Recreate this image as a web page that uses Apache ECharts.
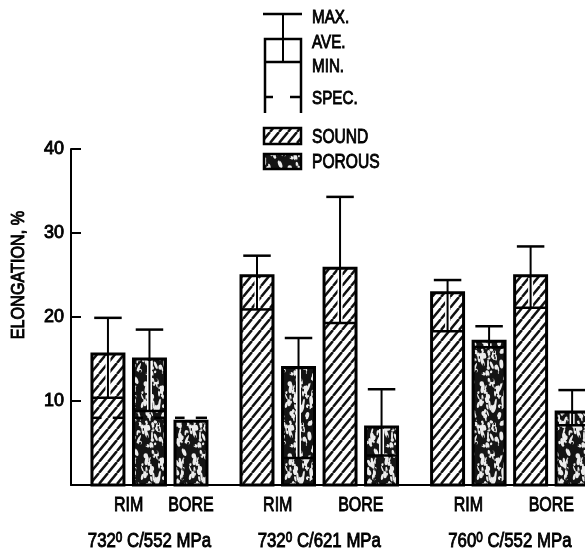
<!DOCTYPE html>
<html>
<head>
<meta charset="utf-8">
<script src="https://cdn.jsdelivr.net/npm/echarts@6/dist/echarts.min.js"></script>
<style>
  html, body { margin: 0; padding: 0; background: #fff; }
  #chart { width: 585px; height: 560px; }
</style>
</head>
<body>
<div id="chart"></div>
<script>
// Test conditions: temperature (deg C) / stress (MPa)
const conditionTemps = ['732', '732', '760'];
const conditionStress = ['552', '621', '552'];

// One entry per bar
const barCondition = [0, 0, 0, 1, 1, 1, 1, 2, 2, 2, 2];
const barLocation = ['RIM', 'RIM', 'BORE', 'RIM', 'RIM', 'BORE', 'BORE', 'RIM', 'RIM', 'BORE', 'BORE'];
const barMaterial = ['SOUND', 'POROUS', 'POROUS', 'SOUND', 'POROUS', 'SOUND', 'POROUS', 'SOUND', 'POROUS', 'SOUND', 'POROUS'];
const aveElongation = [15.6, 15.0, 7.6, 24.9, 14.0, 25.8, 6.9, 22.9, 17.1, 24.9, 8.7];
const minElongation = [10.4, 8.8, 7.6, 20.9, 3.2, 19.3, 3.5, 18.3, 16.4, 21.1, 7.1];
const maxElongation = [19.9, 18.5, 7.6, 27.3, 17.5, 34.3, 11.4, 24.4, 18.9, 28.4, 11.3];
const specElongation = [8, 8, 8, null, null, null, null, null, null, null, null];

// Y axis ticks
const yTicks = [10, 20, 30, 40];

const FONT = "'Liberation Sans', Arial, sans-serif";
const NARROW = 0.8;       // horizontal squeeze for the narrow lettering
const INK = 0.9;          // stroke added to the lettering for a heavier look
const GROUP_GAP = 0.59;   // extra space between condition groups, in bar slots
const BAR_WIDTH = 0.77;   // bar width, in bar slots

// Bar slot positions: consecutive slots, with a gap between condition groups
const barX = barCondition.map((g, i) => i + g * GROUP_GAP);

// ---- fill patterns ----
function makeHatch() {
  const w = 9, h = 11;
  const c = document.createElement('canvas');
  c.width = w; c.height = h;
  const ctx = c.getContext('2d');
  ctx.fillStyle = '#fff';
  ctx.fillRect(0, 0, w, h);
  ctx.strokeStyle = '#111';
  ctx.lineWidth = 2.5;
  [-w, 0, w].forEach(dx => {
    ctx.beginPath();
    ctx.moveTo(dx, h);
    ctx.lineTo(dx + w, 0);
    ctx.stroke();
  });
  return c;
}

function makePorous() {
  const w = 48, h = 72;
  const c = document.createElement('canvas');
  c.width = w; c.height = h;
  const ctx = c.getContext('2d');
  ctx.fillStyle = '#141414';
  ctx.fillRect(0, 0, w, h);
  const hash = n => { const s = Math.sin(n * 127.1 + 311.7) * 43758.5453; return s - Math.floor(s); };
  ctx.fillStyle = '#ececec';
  for (let k = 0; k < 120; k++) {
    const x = hash(k * 3.1) * w;
    const y = hash(k * 7.3 + 1.7) * h;
    const rx = 0.7 + hash(k * 5.9 + 2.3) * 1.6;
    const ry = 1.4 + hash(k * 2.7 + 4.1) * 3.4;
    const rot = (hash(k * 1.9 + 8.8) - 0.5) * 0.8;
    for (const ox of [-w, 0, w]) {
      for (const oy of [-h, 0, h]) {
        ctx.beginPath();
        ctx.ellipse(x + ox, y + oy, rx, ry, rot, 0, Math.PI * 2);
        ctx.fill();
      }
    }
  }
  ctx.fillStyle = '#141414';
  for (let k = 0; k < 110; k++) {
    const x = hash(k * 11.3 + 9.1) * w;
    const y = hash(k * 13.7 + 5.5) * h;
    ctx.fillRect(x, y, 1.5, 2.5);
  }
  return c;
}

const hatchFill = { image: makeHatch(), repeat: 'repeat' };
const porousFill = { image: makePorous(), repeat: 'repeat' };

const seriesData = barX.map((x, i) => [
  x, aveElongation[i], minElongation[i], maxElongation[i],
  specElongation[i] == null ? NaN : specElongation[i],
  barMaterial[i] === 'POROUS' ? 1 : 0
]);

function renderBar(params, api) {
  const xv = api.value(0);
  const base = api.coord([xv, 0]);
  const cx = base[0];
  const y0 = base[1];
  const w = api.size([BAR_WIDTH, 0])[0];
  const yAve = api.coord([xv, api.value(1)])[1];
  const yMin = api.coord([xv, api.value(2)])[1];
  const yMax = api.coord([xv, api.value(3)])[1];
  const spec = api.value(4);
  const porous = api.value(5) === 1;
  const kids = [];
  kids.push({
    type: 'rect',
    shape: { x: cx - w / 2, y: yAve, width: w, height: y0 - yAve },
    style: { fill: porous ? porousFill : hatchFill, stroke: '#000', lineWidth: 3 }
  });
  if (!isNaN(spec)) {
    const ys = api.coord([xv, spec])[1];
    kids.push({ type: 'line', shape: { x1: cx - w / 2, y1: ys, x2: cx - w / 2 + w * 0.3, y2: ys }, style: { stroke: '#000', lineWidth: 2.5 } });
    kids.push({ type: 'line', shape: { x1: cx + w / 2 - w * 0.35, y1: ys, x2: cx + w / 2, y2: ys }, style: { stroke: '#000', lineWidth: 2.5 } });
  }
  if (yMin - yAve > 2) {
    kids.push({ type: 'line', shape: { x1: cx, y1: yAve + 2, x2: cx, y2: yMin - 1 }, style: { stroke: '#fff', lineWidth: 5 } });
    kids.push({ type: 'line', shape: { x1: cx, y1: yAve, x2: cx, y2: yMin }, style: { stroke: '#000', lineWidth: 2 } });
    kids.push({ type: 'line', shape: { x1: cx - w / 2, y1: yMin, x2: cx + w / 2, y2: yMin }, style: { stroke: '#000', lineWidth: 2.5 } });
  }
  if (yAve - yMax > 2) {
    const cap = w * 0.86;
    kids.push({ type: 'line', shape: { x1: cx, y1: yMax, x2: cx, y2: yAve }, style: { stroke: '#000', lineWidth: 2 } });
    kids.push({ type: 'line', shape: { x1: cx - cap / 2, y1: yMax, x2: cx + cap / 2, y2: yMax }, style: { stroke: '#000', lineWidth: 2.5 } });
  }
  return { type: 'group', children: kids };
}

const chart = echarts.init(document.getElementById('chart'), null, { renderer: 'canvas' });

chart.setOption({
  backgroundColor: '#fff',
  animation: false,
  grid: { left: 71, right: 0, top: 149, bottom: 75 },
  xAxis: {
    type: 'value', min: -0.89, max: 11.49,
    axisLine: { show: true, onZero: false, lineStyle: { color: '#000', width: 2 } },
    axisTick: { show: false }, axisLabel: { show: false }, splitLine: { show: false }
  },
  yAxis: {
    type: 'value', min: 0, max: 40, interval: 10,
    axisLine: { show: true, onZero: false, lineStyle: { color: '#000', width: 2 } },
    axisTick: { show: true, inside: true, length: 10, lineStyle: { color: '#000', width: 2 } },
    axisLabel: {
      color: '#000', fontFamily: FONT, fontSize: 18, margin: 7,
      textBorderColor: '#000', textBorderWidth: INK,
      formatter: v => (yTicks.indexOf(v) >= 0 ? String(v) : '')
    },
    splitLine: { show: false }
  },
  series: [{
    type: 'custom',
    renderItem: renderBar,
    encode: { x: 0, y: [1, 2, 3] },
    data: seriesData,
    clip: false,
    silent: true
  }]
});

// ---- text under the axis and the key ----
const textStyle = (text, size) => ({
  text, fill: '#000', fontFamily: FONT, fontSize: size, stroke: '#000', lineWidth: INK
});
const toPx = x => chart.convertToPixel({ xAxisIndex: 0 }, x);
const mean = a => a.reduce((s, v) => s + v, 0) / a.length;

const graphics = [];

// location labels (RIM / BORE) and condition labels
conditionTemps.forEach((t, g) => {
  const groupIdx = barX.map((x, i) => i).filter(i => barCondition[i] === g);
  ['RIM', 'BORE'].forEach(loc => {
    const idx = groupIdx.filter(i => barLocation[i] === loc);
    if (!idx.length) return;
    graphics.push({
      type: 'text', x: toPx(mean(idx.map(i => barX[i]))), y: 505, scaleX: NARROW,
      style: Object.assign(textStyle(loc, 20), { align: 'center', verticalAlign: 'middle' })
    });
  });
  const gx = toPx(mean([barX[groupIdx[0]], barX[groupIdx[groupIdx.length - 1]]]));
  const richPart = size => ({ fontFamily: FONT, fontSize: size, fill: '#000', stroke: '#000', lineWidth: INK });
  graphics.push({
    type: 'text', x: gx, y: 541, scaleX: 0.84,
    style: {
      text: '{n|' + t + '}{s|0}{n| C/' + conditionStress[g] + ' MPa}',
      align: 'center', verticalAlign: 'middle',
      rich: {
        n: Object.assign(richPart(20), { verticalAlign: 'bottom' }),
        s: Object.assign(richPart(14), { verticalAlign: 'top' })
      }
    }
  });
});

// y axis title
graphics.push({
  type: 'text', x: 19, y: 275, rotation: Math.PI / 2, scaleX: 0.9,
  style: Object.assign(textStyle('ELONGATION, %', 18), { align: 'center', verticalAlign: 'middle' })
});

// key: max / ave / min / spec glyph
const keyLine = (x1, y1, x2, y2, lw) => ({ type: 'line', shape: { x1, y1, x2, y2 }, style: { stroke: '#000', lineWidth: lw || 2.5 } });
graphics.push(keyLine(263, 14, 302, 14));
graphics.push(keyLine(283, 14, 283, 62, 2));
graphics.push({ type: 'polyline', shape: { points: [[265, 113], [265, 39], [301, 39], [301, 113]] }, style: { stroke: '#000', lineWidth: 2.5, fill: null } });
graphics.push(keyLine(265, 62, 301, 62));
graphics.push(keyLine(265, 97, 273, 97));
graphics.push(keyLine(290, 97, 301, 97));
[['MAX.', 18], ['AVE.', 43], ['MIN.', 67], ['SPEC.', 99]].forEach(([t, y]) => {
  graphics.push({ type: 'text', x: 312, y, scaleX: NARROW, style: Object.assign(textStyle(t, 19), { verticalAlign: 'middle' }) });
});
// key: material swatches
graphics.push({ type: 'rect', shape: { x: 264, y: 128, width: 37, height: 16 }, style: { fill: hatchFill, stroke: '#000', lineWidth: 2.5 } });
graphics.push({ type: 'text', x: 312, y: 137, scaleX: 0.78, style: Object.assign(textStyle('SOUND', 20), { verticalAlign: 'middle' }) });
graphics.push({ type: 'rect', shape: { x: 264, y: 154, width: 37, height: 15 }, style: { fill: porousFill, stroke: '#000', lineWidth: 2.5 } });
graphics.push({ type: 'text', x: 312, y: 162, scaleX: 0.78, style: Object.assign(textStyle('POROUS', 20), { verticalAlign: 'middle' }) });

chart.setOption({ graphic: graphics });
</script>
</body>
</html>
